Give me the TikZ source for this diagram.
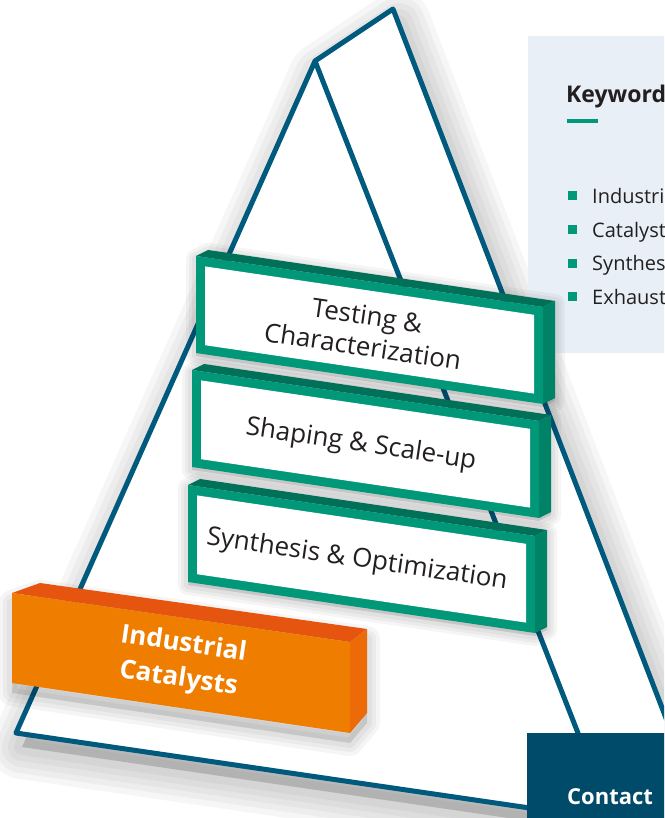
\documentclass[tikz,border=0pt]{standalone}
\usepackage{fontspec}
\setmainfont{Open Sans}
\definecolor{pyrblue}{RGB}{0,90,125}
\definecolor{stagegreen}{RGB}{0,152,121}
\definecolor{stagedark}{RGB}{0,112,88}
\definecolor{stagemid}{RGB}{0,130,102}
\definecolor{catfront}{RGB}{239,125,0}
\definecolor{cattop}{RGB}{230,85,15}
\definecolor{catside}{RGB}{236,106,8}
\definecolor{panelgray}{RGB}{232,239,246}
\definecolor{contactblue}{RGB}{0,75,106}
\definecolor{inkgray}{RGB}{35,31,32}
\tikzset{
pyrline/.style={draw=pyrblue, line width=5pt, line join=round, line cap=round},
haze/.style={fill=black, draw=black, opacity=#1, line join=round},
stagetext/.style={rotate=-8.4, align=center, text=inkgray,
	font=\fontsize{26}{31}\selectfont},
cattext/.style={rotate=-8.4, align=center, text=white,
	font=\bfseries\fontsize{26}{35}\selectfont},
kwtext/.style={anchor=base west, inner sep=0pt, text=inkgray,
	font=\fontsize{20}{24}\selectfont}
}
\newcommand{\stagebox}[4]{%
	\begin{scope}[shift={(#2,#3)}]
	\foreach \w in {20,14,8}
		\filldraw[haze=.04, line width=\w pt] (0,3) -- (12,-3) -- (359,48) -- (359,145) -- (347,151) -- (0,100) -- cycle;
	\fill[stagedark] (0,0) -- (12,-6) -- (359,45) -- (347,51) -- cycle;
	\fill[stagemid] (347,51) -- (359,45) -- (359,142) -- (347,148) -- cycle;
	\fill[stagegreen] (0,0) -- (347,51) -- (347,148) -- (0,97) -- cycle;
	\fill[white] (9,10.4) -- (338,58.8) -- (338,137.6) -- (9,89.2) -- cycle;
	\node[stagetext] (#1) at (169,75) {#4};
	\end{scope}}

\begin{document}
\begin{tikzpicture}[x=1pt, y=-1pt]
	\useasboundingbox (0,0) rectangle (664,818);
	\clip (0,0) rectangle (664,818);
	\coordinate (apex) at (393,9);
	\coordinate (peak) at (315,61);
	\coordinate (foot) at (16,733);
	\coordinate (toe) at (612,820);
	\coordinate (heel) at (736,900);
	\foreach \w in {64,52,40,28,16}
		\filldraw[haze=.035, line width=\w pt] (399,23) -- (321,75) -- (22,747) -- (618,834) -- (742,914) -- cycle;
	\fill[white] (apex) -- (peak) -- (foot) -- (toe) -- (heel) -- cycle;
	\draw[pyrline] (heel) -- (apex) -- (peak) -- (foot) -- (toe) -- (peak);
	\fill[panelgray] (528,36) rectangle (670,353);
	\node[kwtext, font=\bfseries\fontsize{23}{27}\selectfont] (keywords) at (566,103) {Keyword};
	\draw[stagegreen, line width=3.5pt] (567,121) -- (598,121);
	\foreach \word [count=\i] in {Industria,Catalyst,Synthes,Exhaust} {
		\fill[stagegreen] (568,{191.5+33.5*(\i-1)}) rectangle +(9,9);
		\node[kwtext] (kw\i) at (592,{203.5+33.5*(\i-1)}) {\word};
	}
	\stagebox{testing}{196}{256}{Testing \&\\Characterization}
	\stagebox{shaping}{192}{370}{Shaping \& Scale-up}
	\stagebox{synthesis}{188}{485}{Synthesis \& Optimization}
	\foreach \w in {26,18,10}
		\filldraw[haze=.04, line width=\w pt] (12,603) -- (40,593) -- (367,639) -- (367,723) -- (350,743) -- (12,693) -- cycle;
	\fill[cattop] (12,593) -- (40,583) -- (367,629) -- (350,642) -- cycle;
	\fill[catside] (350,642) -- (367,629) -- (367,713) -- (350,733) -- cycle;
	\fill[catfront] (12,593) -- (350,642) -- (350,733) -- (12,683) -- cycle;
	\node[cattext] (catalysts) at (181,662) {Industrial\\Catalysts};
	\fill[contactblue] (527,733) rectangle (670,825);
	\node[kwtext, text=white, font=\bfseries\fontsize{22}{26}\selectfont] (contact) at (567,804) {Contact};
\end{tikzpicture}
\end{document}
